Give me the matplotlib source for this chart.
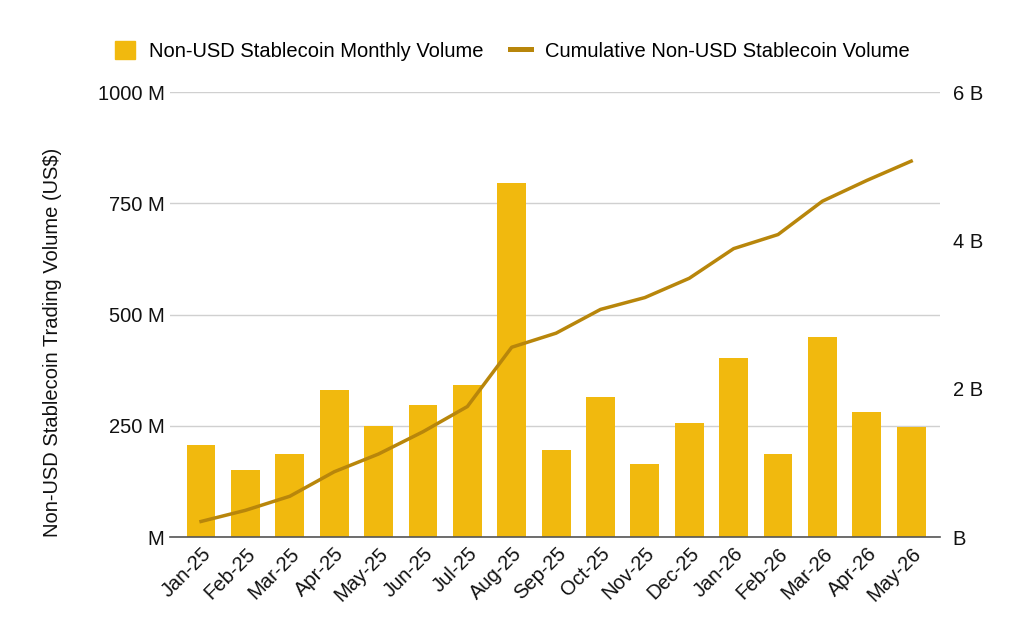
import matplotlib
matplotlib.use("Agg")
import matplotlib.pyplot as plt
from matplotlib.lines import Line2D
from matplotlib.patches import Patch

plt.rcParams['font.family'] = ['Liberation Sans', 'DejaVu Sans']

months = ["Jan-25", "Feb-25", "Mar-25", "Apr-25", "May-25", "Jun-25", "Jul-25", "Aug-25",
          "Sep-25", "Oct-25", "Nov-25", "Dec-25", "Jan-26", "Feb-26", "Mar-26", "Apr-26", "May-26"]
monthly_m = [207, 150, 187, 330, 249, 297, 342, 796, 196, 315, 164, 256, 402, 187, 449, 281, 247]
cumulative_b = [0.21, 0.36, 0.55, 0.88, 1.12, 1.42, 1.76, 2.56, 2.75, 3.07, 3.23, 3.49, 3.89, 4.08, 4.53, 4.81, 5.07]

left_ticks = [0, 250, 500, 750, 1000]
left_labels = ["M", "250 M", "500 M", "750 M", "1000 M"]
right_ticks = [0, 2, 4, 6]
right_labels = ["B", "2 B", "4 B", "6 B"]

bar_color = "#F1B90E"
line_color = "#B8860B"
fs = 14.5

fig = plt.figure(figsize=(10.24, 6.23), dpi=100)
ax = fig.add_axes([0.166, 0.138, 0.752, 0.714])
x = list(range(len(months)))
ax.bar(x, monthly_m, width=0.65, color=bar_color, zorder=2)
ax.set_ylim(0, 1000)
ax.set_xlim(-0.7, len(months) - 0.35)
ax.set_yticks(left_ticks)
ax.set_yticklabels(left_labels, fontsize=fs)
ax.grid(axis='y', color='#d0d0d0', linewidth=1, zorder=0)
ax.set_axisbelow(True)
for s in ['top', 'right', 'left']:
    ax.spines[s].set_visible(False)
ax.spines['bottom'].set_color('#555555')
ax.spines['bottom'].set_linewidth(1.2)
ax.tick_params(axis='y', length=0, pad=4, labelcolor='#111111')
ax.tick_params(axis='x', length=0, pad=5)
ax.set_xticks(x)
ax.set_xticklabels(months, rotation=45, ha='right', rotation_mode='anchor', fontsize=fs, color='#111111')
ax.set_ylabel("Non-USD Stablecoin Trading Volume (US$)", fontsize=fs, color='#111111')
ax.yaxis.set_label_coords(-0.140, 0.438)

ax2 = ax.twinx()
ax2.plot(x, cumulative_b, color=line_color, linewidth=2.5, zorder=3)
ax2.set_ylim(0, 6)
ax2.set_yticks(right_ticks)
ax2.set_yticklabels(right_labels, fontsize=fs, color='#111111')
ax2.tick_params(axis='y', length=0, pad=9)
for s in ['top', 'right', 'left', 'bottom']:
    ax2.spines[s].set_visible(False)

handles = [Patch(facecolor=bar_color, edgecolor=bar_color),
           Line2D([0], [0], color=line_color, linewidth=3.6)]
fig.legend(handles, ["Non-USD Stablecoin Monthly Volume", "Cumulative Non-USD Stablecoin Volume"],
           loc='center', bbox_to_anchor=(0.5, 0.918), ncol=2, frameon=False, fontsize=fs,
           handlelength=1.0, handleheight=1.0, columnspacing=1.35, handletextpad=0.7)

fig.savefig("out.png", dpi=100)
